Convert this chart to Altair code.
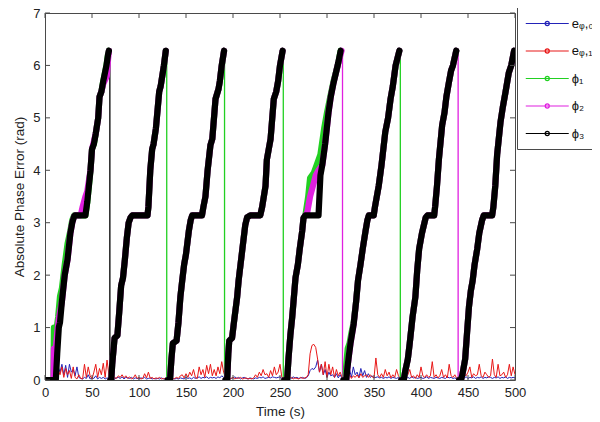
import altair as alt
import pandas as pd

# ---------------- axis ticks ----------------
x_ticks = list(range(0, 501, 50))
y_ticks = list(range(0, 8))

# ---------------- series labels / colours ----------------
LABELS = ["e\u1d69,\u2080", "e\u1d69,\u2081", "\u03d5\u2081", "\u03d5\u2082", "\u03d5\u2083"]
COLORS = ["#2323b8", "#e81818", "#22d022", "#e020e0", "#000000"]

# ---------------- error series (sampled every 2 s) ----------------
noise_t = list(range(0, 501, 2))
e1_vals = [
    0, 0, 0, 0, 0, 0, 0.03, 0.2, 0.1, 0.25,
    0.05, 0.22, 0.1, 0.18, 0.03, 0.25, 0.05, 0.02, 0.1, 0.03,
    0.02, 0.3, 0.05, 0.25, 0.08, 0.02, 0.15, 0.3, 0.05, 0.22,
    0.1, 0.32, 0.05, 0.38, 0.1, 0.02, 0.02, 0.05, 0.03, 0.08,
    0.05, 0.1, 0.04, 0.08, 0.03, 0.06, 0.02, 0.04, 0.1, 0.03,
    0.05, 0.02, 0.03, 0.12, 0.04, 0.15, 0.03, 0.05, 0.02, 0.04,
    0.03, 0.05, 0.02, 0.03, 0.02, 0.04, 0.02, 0.01, 0.02, 0.03,
    0.05, 0.03, 0.08, 0.1, 0.04, 0.12, 0.05, 0.15, 0.08, 0.2,
    0.05, 0.03, 0.25, 0.1, 0.2, 0.05, 0.28, 0.12, 0.3, 0.08,
    0.2, 0.08, 0.25, 0.12, 0.35, 0.15, 0.05, 0.03, 0.02, 0.03,
    0.05, 0.02, 0.04, 0.03, 0.05, 0.02, 0.03, 0.04, 0.02, 0.03,
    0.02, 0.04, 0.1, 0.05, 0.15, 0.08, 0.2, 0.1, 0.12, 0.05,
    0.18, 0.08, 0.25, 0.1, 0.15, 0.3, 0.05, 0.02, 0.03, 0.02,
    0.03, 0.05, 0.02, 0.04, 0.03, 0.02, 0.05, 0.03, 0.04, 0.05,
    0.1, 0.5, 0.66, 0.68, 0.62, 0.4, 0.15, 0.3, 0.1, 0.35,
    0.05, 0.3, 0.1, 0.25, 0.05, 0.2, 0.08, 0.15, 0.05, 0.02,
    0.02, 0.05, 0.1, 0.03, 0.08, 0.05, 0.1, 0.04, 0.12, 0.05,
    0.08, 0.1, 0.05, 0.1, 0.06, 0.04, 0.42, 0.1, 0.05, 0.12,
    0.05, 0.2, 0.08, 0.15, 0.04, 0.1, 0.05, 0.2, 0.08, 0.03,
    0.02, 0.03, 0.05, 0.1, 0.2, 0.05, 0.08, 0.03, 0.1, 0.05,
    0.25, 0.08, 0.05, 0.1, 0.05, 0.08, 0.35, 0.05, 0.1, 0.04,
    0.08, 0.2, 0.05, 0.1, 0.04, 0.3, 0.08, 0.05, 0.1, 0.03,
    0.02, 0.03, 0.05, 0.1, 0.08, 0.15, 0.25, 0.05, 0.12, 0.08,
    0.1, 0.3, 0.08, 0.05, 0.15, 0.1, 0.05, 0.08, 0.4, 0.1,
    0.05, 0.3, 0.08, 0.1, 0.15, 0.05, 0.1, 0.3, 0.08, 0.25,
    0.1,
]
e0_vals = [
    0, 0, 0, 0, 0, 0, 0.05, 0.25, 0.15, 0.3,
    0.1, 0.28, 0.05, 0.3, 0.15, 0.2, 0.08, 0.25, 0.05, 0.03,
    0.02, 0.05, 0.03, 0.1, 0.02, 0.04, 0.03, 0.08, 0.02, 0.05,
    0.03, 0.05, 0.02, 0.04, 0.03, 0.02, 0.01, 0.02, 0.04, 0.05,
    0.03, 0.06, 0.02, 0.05, 0.04, 0.03, 0.05, 0.02, 0.04, 0.03,
    0.02, 0.04, 0.03, 0.05, 0.02, 0.03, 0.04, 0.02, 0.03, 0.02,
    0.03, 0.02, 0.04, 0.02, 0.03, 0.02, 0.01, 0.02, 0.03, 0.02,
    0.03, 0.02, 0.04, 0.03, 0.02, 0.05, 0.03, 0.04, 0.02, 0.05,
    0.03, 0.04, 0.06, 0.03, 0.05, 0.04, 0.06, 0.03, 0.05, 0.04,
    0.05, 0.03, 0.06, 0.04, 0.08, 0.05, 0.04, 0.03, 0.02, 0.03,
    0.04, 0.06, 0.03, 0.05, 0.02, 0.04, 0.05, 0.03, 0.02, 0.04,
    0.03, 0.02, 0.04, 0.03, 0.05, 0.04, 0.06, 0.03, 0.04, 0.05,
    0.04, 0.06, 0.05, 0.04, 0.05, 0.06, 0.03, 0.02, 0.03, 0.04,
    0.05, 0.03, 0.06, 0.04, 0.05, 0.03, 0.04, 0.05, 0.03, 0.04,
    0.08, 0.18, 0.22, 0.2, 0.25, 0.38, 0.15, 0.3, 0.1, 0.2,
    0.05, 0.15, 0.08, 0.1, 0.05, 0.12, 0.04, 0.1, 0.03, 0.02,
    0.03, 0.1, 0.2, 0.05, 0.25, 0.1, 0.15, 0.05, 0.22, 0.08,
    0.18, 0.05, 0.12, 0.05, 0.08, 0.04, 0.05, 0.06, 0.04, 0.05,
    0.03, 0.05, 0.04, 0.06, 0.03, 0.05, 0.04, 0.03, 0.05, 0.02,
    0.02, 0.03, 0.04, 0.05, 0.03, 0.06, 0.04, 0.05, 0.03, 0.04,
    0.05, 0.03, 0.04, 0.06, 0.03, 0.05, 0.04, 0.03, 0.05, 0.04,
    0.03, 0.05, 0.04, 0.03, 0.06, 0.04, 0.05, 0.03, 0.04, 0.02,
    0.02, 0.03, 0.05, 0.04, 0.06, 0.03, 0.05, 0.04, 0.06, 0.03,
    0.05, 0.04, 0.06, 0.03, 0.05, 0.04, 0.06, 0.05, 0.03, 0.05,
    0.04, 0.06, 0.03, 0.05, 0.04, 0.06, 0.03, 0.05, 0.04, 0.05,
    0.04,
]

# ---------------- phase ramps (phi_3, black) ----------------
ramp1 = [(0, 0), (11.5, 0), (13, 0.5), (14.7, 1.0), (16, 1.1), (18, 1.5), (21, 2.0), (24, 2.3),
         (27, 2.8), (29, 3.0), (31, 3.12), (32, 3.14), (43, 3.14), (45, 3.4), (48.4, 4.0),
         (50, 4.4), (52, 4.5), (54, 4.7), (56.6, 5.0), (58, 5.4), (60, 5.5), (62, 5.7),
         (65.4, 6.0), (67, 6.2), (68, 6.28)]
ramp2 = [(69.5, 0), (70.5, 0), (71.5, 0.3), (73, 0.6), (74, 0.8), (77, 0.85), (79, 1.3), (81, 1.8),
         (83, 1.95), (85, 2.3), (87, 2.7), (89, 3.0), (91, 3.1), (93, 3.14), (109, 3.14),
         (110, 3.3), (112, 4.0), (114, 4.4), (115.5, 4.5), (118, 4.8), (120, 5.2),
         (121.5, 5.5), (123, 5.6), (126.5, 6.0), (128.5, 6.28)]
ramp3 = [(130.5, 0), (133, 0), (134.5, 0.4), (136, 0.7), (140, 0.75), (142, 1.1), (144, 1.58),
         (146, 1.9), (148, 2.2), (150, 2.4), (153, 2.84), (155, 3.05), (156.6, 3.14),
         (167, 3.14), (168.5, 3.3), (170.7, 3.5), (173, 4.0), (176, 4.48), (178, 4.6),
         (181.4, 5.36), (184.6, 5.55), (186, 5.7), (188, 6.0), (190.5, 6.28)]
ramp4 = [(192, 0), (193.8, 0), (195, 0.5), (196, 0.75), (199, 0.8), (201, 1.1), (204.4, 1.58),
         (206, 1.9), (208, 2.2), (210, 2.5), (213, 2.95), (215, 3.1), (218.5, 3.14),
         (229, 3.14), (231, 3.3), (234.6, 3.7), (236, 4.2), (238, 4.4), (240, 4.6),
         (243.4, 5.36), (246, 5.5), (248, 5.7), (250, 6.0), (252.8, 6.28)]
ramp5 = [(254.5, 0), (257.6, 0), (259, 0.4), (261, 0.85), (263, 1.2), (266.5, 1.95), (269, 2.2),
         (271, 2.5), (273.6, 2.84), (275, 3.09), (277, 3.14), (291, 3.14), (293, 3.9),
         (295, 4.1), (298, 4.5), (301.6, 5.1), (304, 5.4), (307, 5.67), (310, 5.9),
         (312, 6.05), (314.5, 6.28)]
ramp6 = [(317.5, 0), (320.5, 0), (321.5, 0.2), (323, 0.42), (325, 0.7), (328.4, 1.07), (331, 1.5),
         (333, 1.9), (335.6, 2.2), (338, 2.5), (341, 2.84), (343, 3.05), (344.5, 3.14),
         (349.7, 3.14), (351, 3.3), (355, 3.7), (358, 4.1), (362, 4.73), (365, 5.0),
         (367.6, 5.36), (370, 5.6), (373, 6.0), (377, 6.28)]
ramp7 = [(379, 0), (381.7, 0), (383, 0.15), (386, 0.4), (388, 0.7), (391, 1.2), (394, 1.58),
         (396, 2.1), (398, 2.5), (401, 2.8), (405, 3.1), (407, 3.14), (414, 3.14), (415, 3.3),
         (417, 3.7), (419, 4.2), (422.5, 4.86), (425, 5.1), (427, 5.4), (429.6, 5.67),
         (432, 5.9), (434, 6.0), (437.5, 6.28)]
ramp8 = [(440.5, 0), (442.5, 0), (444, 0.1), (447, 0.4), (449, 0.9), (451, 1.39), (453, 1.7),
         (455, 1.9), (457, 2.2), (459.8, 2.5), (462, 2.8), (465, 3.05), (466.8, 3.14),
         (475.7, 3.14), (477, 3.3), (479, 3.7), (481, 4.3), (484.6, 4.92), (487, 5.2),
         (490, 5.5), (493.4, 5.86), (496, 6.0), (499, 6.28)]

# phi_1 (green) where it departs from phi_3
g_ramp1 = [(0, 0), (9, 0), (9.5, 1.0), (12.5, 1.0), (14, 1.2), (16, 1.6), (18, 1.75), (21, 2.2),
           (24, 2.6), (27, 2.85), (29, 3.05), (31, 3.14), (43, 3.14), (45, 3.4), (48.4, 4.0),
           (50, 4.4), (52, 4.5), (54, 4.7), (56.6, 5.0), (58, 5.4), (60, 5.5), (62, 5.7),
           (65.4, 6.0), (67, 6.2), (68, 6.28)]
g_ramp5 = [(254.5, 0), (257.6, 0), (259, 0.4), (261, 0.85), (263, 1.2), (266.5, 1.95), (269, 2.2),
           (271, 2.5), (273.6, 2.84), (275, 3.09), (277, 3.14), (280, 3.5), (282, 3.85),
           (286, 3.95), (289, 4.1), (293, 4.3), (297, 4.8), (300, 5.1), (304, 5.45),
           (307, 5.7), (310, 5.9), (312, 6.05), (314.5, 6.28)]
g_ramp6 = [(317.5, 0), (319.5, 0), (320.5, 0.3), (322, 0.6), (324, 0.7), (326, 0.9), (328.4, 1.1),
           (331, 1.5), (333, 1.9), (335.6, 2.2), (338, 2.5), (341, 2.84), (343, 3.05),
           (344.5, 3.14), (349.7, 3.14), (351, 3.3), (355, 3.7), (358, 4.1), (362, 4.73),
           (365, 5.0), (367.6, 5.36), (370, 5.6), (373, 6.0), (377, 6.28)]
# phi_2 (magenta) where it departs from phi_3
m_ramp1 = [(0, 0), (9, 0), (9.5, 0.6), (11.5, 0.6), (13, 0.9), (15, 1.2), (18, 1.5), (21, 2.0),
           (24, 2.3), (27, 2.8), (29, 3.0), (31, 3.12), (32, 3.14), (38, 3.14), (40, 3.3),
           (43, 3.5), (45, 3.6), (48.4, 4.0), (50, 4.4), (52, 4.55), (54, 4.7), (56.6, 5.0),
           (58, 5.4), (60, 5.5), (62, 5.65), (65.8, 5.8), (67, 6.1), (68, 6.28)]
m_ramp5 = [(254.5, 0), (257.6, 0), (259, 0.4), (261, 0.85), (263, 1.2), (266.5, 1.95), (269, 2.2),
           (271, 2.5), (273.6, 2.84), (275, 3.09), (277, 3.14), (279, 3.2), (282, 3.5),
           (285, 3.7), (288, 3.9), (291, 4.0), (295, 4.1), (298, 4.5), (301.6, 5.1),
           (304, 5.4), (307, 5.67), (310, 5.9), (312, 6.05), (315.5, 6.28)]

phi3_ramps = [ramp1, ramp2, ramp3, ramp4, ramp5, ramp6, ramp7, ramp8]
phi1_ramps = [g_ramp1, ramp2, ramp3, ramp4, g_ramp5, g_ramp6, ramp7, ramp8]
phi2_ramps = [m_ramp1, ramp2, ramp3, ramp4, m_ramp5, ramp6, ramp7, ramp8]

# wrap-around (reset) instants and which trace shows on top there
reset_t = [69, 129.5, 191, 253.5, 316.5, 378, 439.5]
reset_who = [4, 2, 2, 2, 3, 2, 3]
reset_top = 6.28

# ---------------- build tables ----------------
noise_rows = []
for i, t in enumerate(noise_t):
    noise_rows.append({"series": LABELS[0], "t": t, "v": e0_vals[i], "seg": 0, "k": i})
    noise_rows.append({"series": LABELS[1], "t": t, "v": e1_vals[i], "seg": 0, "k": i})
noise_df = pd.DataFrame(noise_rows)

phi_rows = []
for lab, ramps in [(LABELS[2], phi1_ramps), (LABELS[3], phi2_ramps), (LABELS[4], phi3_ramps)]:
    k = 0
    for s, ramp in enumerate(ramps):
        for t, v in ramp:
            phi_rows.append({"series": lab, "t": t, "v": v, "seg": s, "k": k})
            k += 1
phi_df = pd.DataFrame(phi_rows)

reset_df = pd.DataFrame({"t": reset_t, "series": [LABELS[i] for i in reset_who],
                         "v0": [0] * len(reset_t), "v1": [reset_top] * len(reset_t)})
xt_df = pd.DataFrame({"t": x_ticks})
yt_df = pd.DataFrame({"v": y_ticks})

W, H = 470, 367
FONT = "Liberation Sans"
BOX = "#4a4a4a"

# legend symbol: a line sample twice as long as the nominal symbol, with a small dot
dot_path = "M-2,0H2M0.19,0A0.19,0.19,0,1,1,-0.19,0A0.19,0.19,0,1,1,0.19,0Z"
SYM = 462  # nominal symbol area -> sqrt = 21.5 px, path spans 43 px

legend = alt.Legend(
    title=None, orient="none", legendX=472, legendY=-9,
    symbolType=dot_path, symbolSize=SYM, symbolStrokeWidth=1.2, symbolOffset=10.75,
    labelFont=FONT, labelFontSize=13, labelColor="#111111", labelOffset=13,
    rowPadding=8.5, padding=8, strokeColor=BOX, fillColor="white",
    symbolOpacity=1,
)

xscale = alt.Scale(domain=[0, 500], nice=False)
yscale = alt.Scale(domain=[0, 7], nice=False)
color = alt.Color("series:N", scale=alt.Scale(domain=LABELS, range=COLORS), legend=legend)

xax = alt.Axis(values=x_ticks, title="Time (s)", grid=False, domain=False, ticks=False, tickSize=0,
               labelFont=FONT, labelFontSize=13, labelColor="#222222", labelPadding=6,
               titleFont=FONT, titleFontSize=13.5, titleFontWeight="normal", titleColor="#222222",
               titlePadding=5, labelFlush=False)
yax = alt.Axis(values=y_ticks, title="Absolute Phase Error (rad)", grid=False, domain=False,
               ticks=False, tickSize=0, labelFont=FONT, labelFontSize=13, labelColor="#222222",
               labelPadding=5, titleFont=FONT, titleFontSize=13.5, titleFontWeight="normal",
               titleColor="#222222", titlePadding=6, labelFlush=False)

X = alt.X("t:Q", scale=xscale, axis=xax)
Y = alt.Y("v:Q", scale=yscale, axis=yax)


def noise_layer(lab):
    return alt.Chart(noise_df).transform_filter(alt.datum.series == lab).mark_line(
        strokeWidth=1, clip=True).encode(x=X, y=Y, color=color, order="k:Q")


def phi_layer(lab, sw):
    return alt.Chart(phi_df).transform_filter(alt.datum.series == lab).mark_line(
        strokeWidth=sw, strokeCap="round", strokeJoin="round", clip=True).encode(
        x=X, y=Y, color=color, detail="seg:N", order="k:Q")


resets = alt.Chart(reset_df).mark_rule(strokeWidth=1.3).encode(
    x=X, y=alt.Y("v0:Q", scale=yscale, axis=yax), y2="v1:Q", color=color)

tick_b = alt.Chart(xt_df).mark_rule(color=BOX, strokeWidth=1).encode(
    x=X, y=alt.value(H), y2=alt.value(H - 5))
tick_t = alt.Chart(xt_df).mark_rule(color=BOX, strokeWidth=1).encode(
    x=X, y=alt.value(0), y2=alt.value(5))
tick_l = alt.Chart(yt_df).mark_rule(color=BOX, strokeWidth=1).encode(
    y=Y, x=alt.value(0), x2=alt.value(5))
tick_r = alt.Chart(yt_df).mark_rule(color=BOX, strokeWidth=1).encode(
    y=Y, x=alt.value(W), x2=alt.value(W - 5))

chart = alt.layer(
    noise_layer(LABELS[0]), noise_layer(LABELS[1]), resets,
    phi_layer(LABELS[2], 6.2), phi_layer(LABELS[3], 6.2), phi_layer(LABELS[4], 6.2),
    tick_b, tick_t, tick_l, tick_r,
).properties(
    width=W, height=H,
    padding={"left": 37, "top": 5, "right": 77, "bottom": 40},
    autosize=alt.AutoSizeParams(type="none"),
    background="white",
).configure_view(stroke=BOX, strokeWidth=1)

chart.save("out.html", embed_options={"renderer": "svg", "actions": False})
